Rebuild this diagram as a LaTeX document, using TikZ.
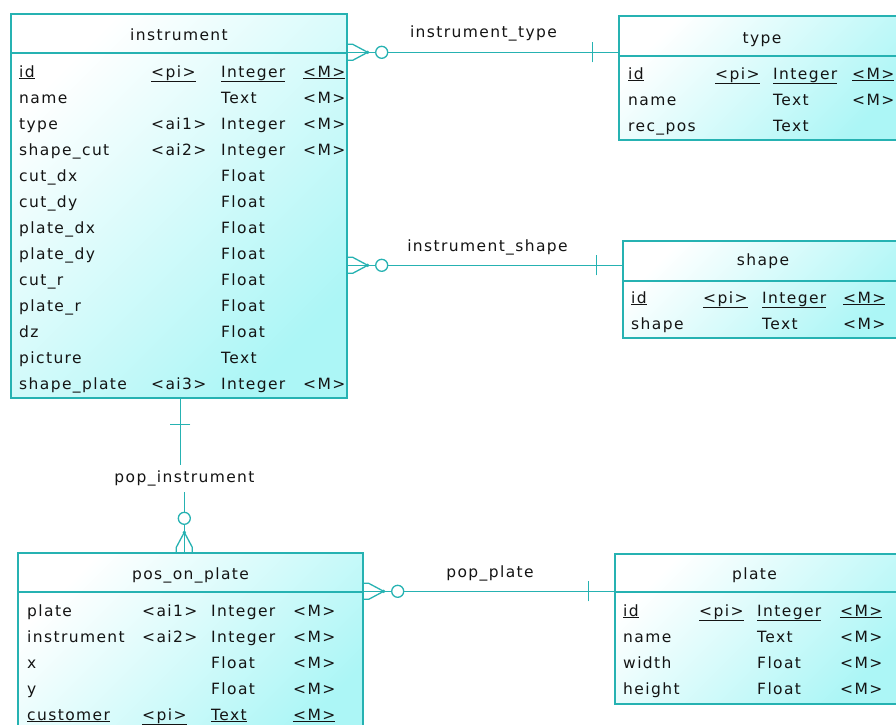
\documentclass[tikz,border=0pt]{standalone}
\usepackage{fontspec}
\setmainfont{DejaVu Sans}[LetterSpace=9]
\definecolor{ln}{RGB}{38,178,178}
\definecolor{fl}{RGB}{172,246,246}
\definecolor{tx}{RGB}{20,20,20}
\tikzset{
 ent/.style={draw=ln, line width=1.4pt, top color=white, bottom color=fl, shading angle=45, rectangle, inner sep=0pt},
 sep/.style={draw=ln, line width=1.4pt},
 fld/.style={anchor=base west, inner sep=0pt, font=\fontsize{15.5}{18}\selectfont, text=tx},
 ttl/.style={anchor=base, inner sep=0pt, font=\fontsize{15.5}{18}\selectfont, text=tx},
 rel/.style={draw=ln, line width=1.3pt},
 lbl/.style={inner sep=0pt, font=\fontsize{15.5}{18}\selectfont, text=tx},
 crow/.pic={\draw[rel] (0,-8) -- (5,-8) -- (20,0) -- (5,8) -- (0,8);
            \fill[ln] (20,0) circle (1.8);
            \draw[rel, fill=white] (34,0) circle (6);},
 tick/.pic={\draw[rel] (26,-10) -- (26,10);}
}
\begin{document}
\begin{tikzpicture}[x=1pt, y=-1pt]
\useasboundingbox[fill=white] (0,0) rectangle (896,724);

% ---------- entities ----------
\node[ent, minimum width=336pt, minimum height=384pt] (inst) at (179,206) {};
\node[ent, minimum width=286pt, minimum height=124pt] (ty) at (762,78) {};
\node[ent, minimum width=281pt, minimum height=97pt] (sh) at (763.5,289.5) {};
\node[ent, minimum width=345pt, minimum height=192pt] (pos) at (190.5,649) {};
\node[ent, minimum width=285pt, minimum height=150pt] (pl) at (757.5,629) {};

% header separators
\draw[sep] (inst.west |- 0,53) -- (inst.east |- 0,53);
\draw[sep] (ty.west |- 0,56) -- (ty.east |- 0,56);
\draw[sep] (sh.west |- 0,281) -- (sh.east |- 0,281);
\draw[sep] (pos.west |- 0,592) -- (pos.east |- 0,592);
\draw[sep] (pl.west |- 0,592) -- (pl.east |- 0,592);

% titles
\node[ttl] (inst-t) at (179,40) {instrument};
\node[ttl] (ty-t) at (762,43) {type};
\node[ttl] (sh-t) at (763,265) {shape};
\node[ttl] (pos-t) at (190.5,579) {pos\_on\_plate};
\node[ttl] (pl-t) at (754.5,579) {plate};

% ---------- instrument fields ----------
\node[fld] (inst-0-a) at (19,77) {\underline{id}};
\node[fld] (inst-0-b) at (151,77) {\underline{<pi>}};
\node[fld] (inst-0-c) at (221,77) {\underline{Integer}};
\node[fld] (inst-0-d) at (303,77) {\underline{<M>}};
\foreach \a/\b/\c/\d [count=\i] in {name//Text/<M>, type/<ai1>/Integer/<M>, shape\_cut/<ai2>/Integer/<M>,
  cut\_dx//Float/, cut\_dy//Float/, plate\_dx//Float/, plate\_dy//Float/, cut\_r//Float/,
  plate\_r//Float/, dz//Float/, picture//Text/, shape\_plate/<ai3>/Integer/<M>} {
  \node[fld] (inst-\i-a) at (19,{77+26*\i}) {\a};
  \node[fld] (inst-\i-b) at (151,{77+26*\i}) {\b};
  \node[fld] (inst-\i-c) at (221,{77+26*\i}) {\c};
  \node[fld] (inst-\i-d) at (303,{77+26*\i}) {\d};
}

% ---------- type fields ----------
\node[fld] (ty-0-a) at (628,79) {\underline{id}};
\node[fld] (ty-0-b) at (715,79) {\underline{<pi>}};
\node[fld] (ty-0-c) at (773,79) {\underline{Integer}};
\node[fld] (ty-0-d) at (852,79) {\underline{<M>}};
\node[fld] (ty-1-a) at (628,105) {name};
\node[fld] (ty-1-c) at (773,105) {Text};
\node[fld] (ty-1-d) at (852,105) {<M>};
\node[fld] (ty-2-a) at (628,131) {rec\_pos};
\node[fld] (ty-2-c) at (773,131) {Text};

% ---------- shape fields ----------
\node[fld] (sh-0-a) at (631,303) {\underline{id}};
\node[fld] (sh-0-b) at (703,303) {\underline{<pi>}};
\node[fld] (sh-0-c) at (762,303) {\underline{Integer}};
\node[fld] (sh-0-d) at (843,303) {\underline{<M>}};
\node[fld] (sh-1-a) at (631,329) {shape};
\node[fld] (sh-1-c) at (762,329) {Text};
\node[fld] (sh-1-d) at (843,329) {<M>};

% ---------- pos_on_plate fields ----------
\foreach \a/\b/\c [count=\i from 0] in {plate/<ai1>/Integer, instrument/<ai2>/Integer, x//Float, y//Float} {
  \node[fld] (pos-\i-a) at (27,{616+26*\i}) {\a};
  \node[fld] (pos-\i-b) at (142,{616+26*\i}) {\b};
  \node[fld] (pos-\i-c) at (211,{616+26*\i}) {\c};
  \node[fld] (pos-\i-d) at (293,{616+26*\i}) {<M>};
}
\node[fld] (pos-4-a) at (27,720) {\underline{customer}};
\node[fld] (pos-4-b) at (142,720) {\underline{<pi>}};
\node[fld] (pos-4-c) at (211,720) {\underline{Text}};
\node[fld] (pos-4-d) at (293,720) {\underline{<M>}};

% ---------- plate fields ----------
\node[fld] (pl-0-a) at (623,616) {\underline{id}};
\node[fld] (pl-0-b) at (699,616) {\underline{<pi>}};
\node[fld] (pl-0-c) at (757,616) {\underline{Integer}};
\node[fld] (pl-0-d) at (840,616) {\underline{<M>}};
\foreach \a/\c [count=\i] in {name/Text, width/Float, height/Float} {
  \node[fld] (pl-\i-a) at (623,{616+26*\i}) {\a};
  \node[fld] (pl-\i-c) at (757,{616+26*\i}) {\c};
  \node[fld] (pl-\i-d) at (840,{616+26*\i}) {<M>};
}

% ---------- relationships ----------
% instrument_type
\path (inst.north east) ++(0,39) coordinate (r1a);
\path (r1a -| ty.west) coordinate (r1b);
\draw[rel] (r1a) -- (r1b);
\pic at (r1a) {crow};
\pic[rotate=180] at (r1b) {tick};
\node[lbl] (r1l) at (483.5,33) {instrument\_type};

% instrument_shape
\path (inst.north east) ++(0,252) coordinate (r2a);
\path (r2a -| sh.west) coordinate (r2b);
\draw[rel] (r2a) -- (r2b);
\pic at (r2a) {crow};
\pic[rotate=180] at (r2b) {tick};
\node[lbl] (r2l) at (487.5,247) {instrument\_shape};

% pop_instrument
\path (inst.south west) ++(170,0) coordinate (r3a);
\path (pos.north west) ++(167,0) coordinate (r3b);
\draw[rel] (r3a) -- ++(0,78) -| (r3b);
\pic[rotate=-90] at (r3a) {tick};
\pic[rotate=90] at (r3b) {crow};
\node[lbl, fill=white, minimum height=27pt, text height=12pt, text depth=4pt] (r3l) at (184.5,478) {pop\_instrument};

% pop_plate
\path (pos.north east) ++(0,39) coordinate (r4a);
\path (r4a -| pl.west) coordinate (r4b);
\draw[rel] (r4a) -- (r4b);
\pic at (r4a) {crow};
\pic[rotate=180] at (r4b) {tick};
\node[lbl] (r4l) at (490,573) {pop\_plate};
\end{tikzpicture}
\end{document}
